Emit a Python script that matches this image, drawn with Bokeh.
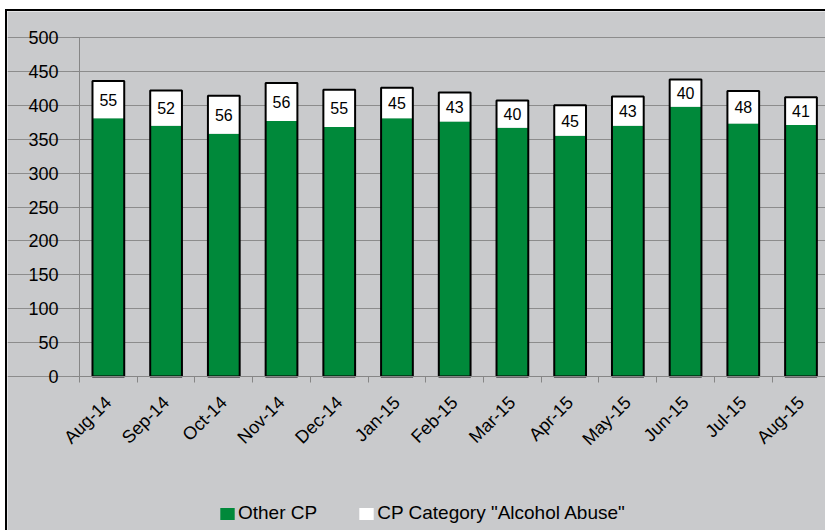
from bokeh.plotting import figure
from bokeh.models import ColumnDataSource, Range1d, FixedTicker, Legend, LegendItem
from bokeh.core.properties import value
from bokeh.embed import file_html
from bokeh.resources import INLINE
from math import pi

months = ["Aug-14", "Sep-14", "Oct-14", "Nov-14", "Dec-14", "Jan-15", "Feb-15",
          "Mar-15", "Apr-15", "May-15", "Jun-15", "Jul-15", "Aug-15"]
other_cp = [381, 370, 358, 377, 368, 381, 376, 367, 355, 370, 398, 373, 371]
alcohol_abuse = [55, 52, 56, 56, 55, 45, 43, 40, 45, 43, 40, 48, 41]
y_ticks = [0, 50, 100, 150, 200, 250, 300, 350, 400, 450, 500]

BG = "#C9CACC"
GREEN = "#00893A"
AXIS_GRAY = "#868686"
FONT = "Liberation Sans"

CAT_PX = 57.72          # pixel width of one category
PX_PER_UNIT = 0.678     # pixels per value unit
FRAME_W = 818
FRAME_H = 519
AXIS_OFFSET_PX = 72     # y axis position from frame left
TOP_PAD_PX = 26         # space above the 500 gridline

xs = [i + 0.5 for i in range(len(months))]
totals = [o + a for o, a in zip(other_cp, alcohol_abuse)]
mids = [o + a / 2 for o, a in zip(other_cp, alcohol_abuse)]
src = ColumnDataSource(dict(x=xs, other=other_cp, alc=alcohol_abuse, total=totals,
                            mid=mids, lab=[str(a) for a in alcohol_abuse]))

y_max = y_ticks[-1]
y_top = y_max + TOP_PAD_PX / PX_PER_UNIT
y_bottom = y_top - FRAME_H / PX_PER_UNIT
x_start = -AXIS_OFFSET_PX / CAT_PX
x_end = x_start + FRAME_W / CAT_PX

p = figure(frame_width=FRAME_W, frame_height=FRAME_H, output_backend="svg", toolbar_location=None,
           x_range=Range1d(x_start, x_end), y_range=Range1d(y_bottom, y_top),
           min_border_left=0, min_border_top=0, min_border_right=0, min_border_bottom=0,
           background_fill_color=BG, border_fill_color=BG, outline_line_color=None)
p.styles = {"margin-left": "5px", "margin-top": "9px",
            "border-left": "2px solid black", "border-top": "2px solid black"}

g = p.vbar(x="x", top="other", bottom=0, width=0.55, source=src,
           fill_color=GREEN, line_color=None)
w = p.vbar(x="x", top="total", bottom="other", width=0.55, source=src,
           fill_color="white", line_color=None)
p.vbar(x="x", top="total", bottom=0, width=0.55, source=src,
       fill_color=None, line_color="black", line_width=2)
p.text(x="x", y="mid", text="lab", source=src, text_align="center",
       text_baseline="middle", text_font_size="16px", text_font=value(FONT),
       text_color="black")

# vertical value-axis line, limited to 0..500
p.segment(x0=[0], y0=[0], x1=[0], y1=[y_max], line_color=AXIS_GRAY, line_width=1)

# axes
p.xaxis.fixed_location = 0
p.xaxis.bounds = (0, x_end)
p.xaxis.ticker = FixedTicker(ticks=xs, minor_ticks=list(range(len(months) + 1)))
p.xaxis.major_label_overrides = {x: m for x, m in zip(xs, months)}
p.xaxis.major_label_orientation = pi / 4
p.xaxis.major_tick_line_color = None
p.xaxis.major_tick_out = 0
p.xaxis.major_tick_in = 0
p.xaxis.minor_tick_line_color = AXIS_GRAY
p.xaxis.minor_tick_out = 6
p.xaxis.minor_tick_in = 0
p.xaxis.major_label_standoff = 17
p.xaxis.axis_line_color = AXIS_GRAY
p.yaxis.fixed_location = 0
p.yaxis.ticker = FixedTicker(ticks=y_ticks)
p.yaxis.bounds = (0, y_max)
p.yaxis.axis_line_color = None
p.yaxis.minor_tick_line_color = None
p.yaxis.major_tick_out = 7
p.yaxis.major_tick_in = 0
p.yaxis.major_tick_line_color = AXIS_GRAY
p.yaxis.major_label_standoff = 14
for ax in (p.xaxis, p.yaxis):
    ax.major_label_text_font = FONT
    ax.major_label_text_font_size = "18px"
    ax.major_label_text_color = "black"

p.xgrid.grid_line_color = None
p.ygrid.grid_line_color = "#8C8C8C"
p.ygrid.grid_line_width = 1
p.ygrid.bounds = (0, x_end)

legend = Legend(items=[LegendItem(label="Other CP", renderers=[g]),
                       LegendItem(label='CP Category "Alcohol Abuse"', renderers=[w])],
                location=(211, 6), orientation="horizontal",
                background_fill_alpha=0, border_line_color=None,
                padding=0, margin=0, spacing=40, glyph_width=18, glyph_height=15,
                label_standoff=2, label_height=16,
                label_text_font=FONT, label_text_font_size="19px", label_text_color="black")
p.add_layout(legend, "center")

open("out.html", "w").write(file_html(p, INLINE))
